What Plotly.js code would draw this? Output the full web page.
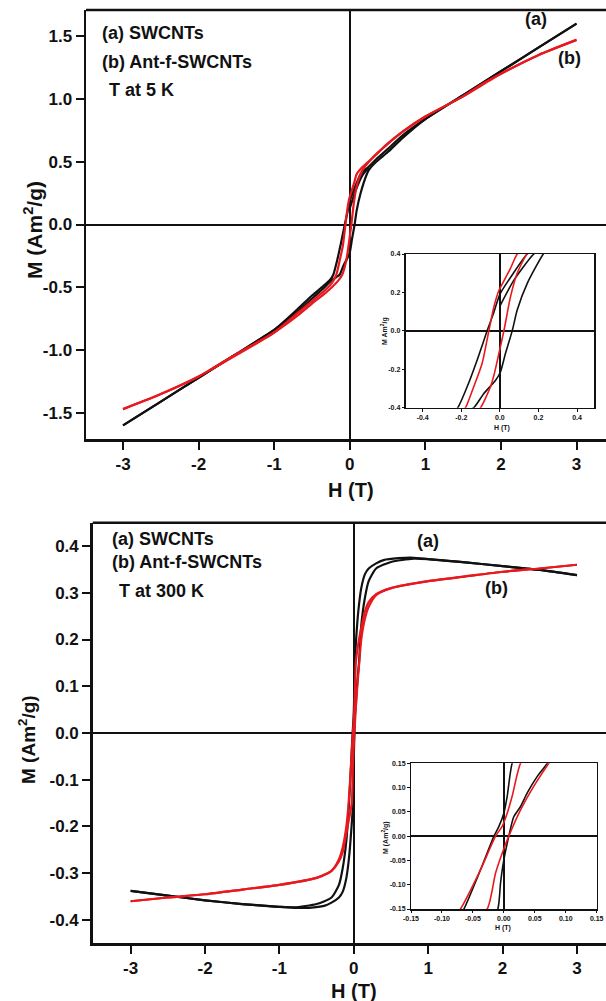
<!DOCTYPE html>
<html><head><meta charset="utf-8">
<script src="https://cdn.plot.ly/plotly-3.0.1.min.js"></script>
<style>html,body{margin:0;padding:0;background:#fff;overflow:hidden}#plot{width:606px;height:1001px}</style>
</head><body><div id="plot"></div>
<script>
// ---------- 5 K data ----------
const H5_blackDown = [3,2.5,2,1.5,1,0.7,0.5,0.35,0.25,0.19,0.142,0.07,0,-0.03,-0.066,-0.117,-0.169,-0.218,-0.26,-0.35,-0.5,-0.7,-1,-1.5,-2,-2.5,-3];
const M5_blackDown = [1.6,1.41,1.22,1.03,0.84,0.71,0.60,0.52,0.46,0.43,0.40,0.30,0.19,0.10,0,-0.15,-0.29,-0.40,-0.44,-0.49,-0.565,-0.68,-0.84,-1.03,-1.22,-1.41,-1.6];
const H5_blackUp = [-3,-2.5,-2,-1.5,-1,-0.7,-0.5,-0.35,-0.25,-0.18,-0.135,-0.083,-0.022,0.003,0.029,0.064,0.09,0.142,0.225,0.26,0.35,0.5,0.7,1,1.5,2,2.5,3];
const M5_blackUp = [-1.6,-1.41,-1.22,-1.03,-0.84,-0.70,-0.59,-0.51,-0.45,-0.42,-0.40,-0.326,-0.257,-0.214,-0.118,0,0.108,0.247,0.40,0.44,0.50,0.575,0.69,0.84,1.03,1.22,1.41,1.6];
const H5_blackExtra = [0.003,0.073,0.176,0.25];
const M5_blackExtra = [0.134,0.264,0.40,0.45];
const H5_redDown = [3,2.5,2,1.7,1.5,1,0.7,0.5,0.3,0.2,0.14,0.09,0.055,0.021,-0.005,-0.031,-0.057,-0.092,-0.135,-0.178,-0.23,-0.32,-0.5,-0.7,-1,-1.5,-2,-2.5,-3];
const M5_redDown = [1.47,1.35,1.20,1.10,1.02,0.86,0.74,0.645,0.53,0.475,0.44,0.40,0.325,0.26,0.21,0.125,0,-0.17,-0.29,-0.40,-0.46,-0.52,-0.61,-0.71,-0.86,-1.04,-1.21,-1.35,-1.47];
const H5_redUp = [-3,-2.5,-2,-1.5,-1,-0.7,-0.5,-0.32,-0.22,-0.15,-0.1,-0.048,-0.028,-0.005,0.021,0.038,0.055,0.09,0.14,0.2,0.3,0.5,0.7,1,1.5,2,2.5,3];
const M5_redUp = [-1.47,-1.35,-1.21,-1.03,-0.86,-0.73,-0.63,-0.545,-0.49,-0.445,-0.40,-0.29,-0.22,-0.118,0,0.09,0.177,0.30,0.40,0.46,0.53,0.64,0.74,0.86,1.02,1.20,1.35,1.47];

// ---------- 300 K data ----------
const H300_blackDown = [3,2.5,2,1.5,1,0.8,0.6,0.4,0.3,0.2,0.15,0.1,0.06,0.035,0.0134,0.0054,0,-0.008,-0.016,-0.0376,-0.0645,-0.1,-0.15,-0.2,-0.3,-0.5,-0.8,-1,-1.5,-2,-2.5,-3];
const M300_blackDown = [0.338,0.349,0.357,0.365,0.372,0.375,0.374,0.37,0.363,0.352,0.34,0.31,0.26,0.21,0.15,0.082,0.047,0.02,0,-0.069,-0.15,-0.23,-0.29,-0.325,-0.352,-0.366,-0.373,-0.372,-0.366,-0.358,-0.348,-0.338];
const H300_blackUp = [-3,-2.5,-2,-1.5,-1,-0.8,-0.6,-0.4,-0.3,-0.2,-0.15,-0.1,-0.06,-0.035,-0.0097,-0.0054,-0.001,0.008,0.016,0.027,0.0376,0.054,0.07,0.1,0.15,0.2,0.3,0.5,0.8,1,1.5,2,2.5,3];
const M300_blackUp = [-0.338,-0.348,-0.358,-0.366,-0.372,-0.374,-0.374,-0.37,-0.363,-0.352,-0.34,-0.31,-0.26,-0.21,-0.15,-0.097,-0.056,0,0.04,0.061,0.0885,0.123,0.15,0.23,0.29,0.325,0.352,0.366,0.373,0.372,0.365,0.357,0.349,0.338];
const H300_redDown = [3,2.5,2,1.5,1,0.5,0.3,0.2,0.15,0.1,0.07,0.045,0.027,0.0134,0.0054,-0.0027,-0.0134,-0.0376,-0.07,-0.1,-0.15,-0.2,-0.3,-0.5,-1,-1.5,-2,-2.5,-3];
const M300_redDown = [0.36,0.352,0.345,0.335,0.325,0.31,0.297,0.28,0.26,0.225,0.2,0.175,0.15,0.082,0.047,0.02,0,-0.069,-0.15,-0.2,-0.245,-0.27,-0.295,-0.31,-0.325,-0.335,-0.345,-0.352,-0.36];
const H300_redUp = [-3,-2.5,-2,-1.5,-1,-0.5,-0.3,-0.2,-0.15,-0.1,-0.06,-0.027,-0.0134,-0.0027,0.008,0.027,0.048,0.0726,0.1,0.15,0.2,0.3,0.5,1,1.5,2,2.5,3];
const M300_redUp = [-0.36,-0.352,-0.345,-0.335,-0.325,-0.31,-0.295,-0.275,-0.255,-0.215,-0.18,-0.15,-0.076,-0.035,0,0.054,0.102,0.15,0.2,0.245,0.27,0.295,0.31,0.325,0.335,0.345,0.352,0.36];

// ---------- tick labels ----------
const mainXTicks = [-3,-2,-1,0,1,2,3];
const mainXLabels = ["-3","-2","-1","0","1","2","3"];
const top5YTicks = [1.5,1.0,0.5,0,-0.5,-1.0,-1.5];
const top5YLabels = ["1.5","1.0","0.5","0.0","-0.5","-1.0","-1.5"];
const bot300YTicks = [0.4,0.3,0.2,0.1,0,-0.1,-0.2,-0.3,-0.4];
const bot300YLabels = ["0.4","0.3","0.2","0.1","0.0","-0.1","-0.2","-0.3","-0.4"];
const inset5Ticks = [-0.4,-0.2,0,0.2,0.4];
const inset5Labels = ["-0.4","-0.2","0.0","0.2","0.4"];
const inset300Ticks = [-0.15,-0.10,-0.05,0,0.05,0.10,0.15];
const inset300Labels = ["-0.15","-0.10","-0.05","0.00","0.05","0.10","0.15"];

const BLACK = '#111111', RED = '#e8191e';
const FONT = '"Liberation Sans", Arial, Helvetica, sans-serif';
const W = 606, Hh = 1001;
const px = x => x / W, py = y => 1 - y / Hh;

function tr(x, y, color, xa, ya, w) {
  return {x, y, type:'scatter', mode:'lines', xaxis:xa, yaxis:ya,
    line:{color, width:w, shape:'spline', smoothing:0.6}, hoverinfo:'skip', showlegend:false};
}
const data = [];
for (const [xa, ya, w] of [['x','y',2.2],['x3','y3',1.6]]) {
  data.push(tr(H5_blackDown, M5_blackDown, BLACK, xa, ya, w));
  data.push(tr(H5_blackUp, M5_blackUp, BLACK, xa, ya, w));
  data.push(tr(H5_blackExtra, M5_blackExtra, BLACK, xa, ya, w));
  data.push(tr(H5_redDown, M5_redDown, RED, xa, ya, w));
  data.push(tr(H5_redUp, M5_redUp, RED, xa, ya, w));
}
for (const [xa, ya, w] of [['x2','y2',2.2],['x4','y4',1.6]]) {
  data.push(tr(H300_blackDown, M300_blackDown, BLACK, xa, ya, w));
  data.push(tr(H300_blackUp, M300_blackUp, BLACK, xa, ya, w));
  data.push(tr(H300_redDown, M300_redDown, RED, xa, ya, w));
  data.push(tr(H300_redUp, M300_redUp, RED, xa, ya, w));
}

function mainAxis(domain, range, tv, tt, anchor) {
  return {domain, range, anchor, tickmode:'array', tickvals:tv, ticktext:tt,
    showline:true, linecolor:BLACK, linewidth:2.5, ticks:'outside', ticklen:8, tickwidth:2, tickcolor:BLACK,
    showgrid:false, zeroline:true, zerolinecolor:BLACK, zerolinewidth:2,
    tickfont:{family:FONT, size:17, color:BLACK, weight:'bold'}, fixedrange:true};
}
function insetAxis(domain, range, tv, tt, anchor) {
  return {domain, range, anchor, tickmode:'array', tickvals:tv, ticktext:tt,
    showline:true, mirror:true, linecolor:BLACK, linewidth:1.5, ticks:'outside', ticklen:2.5, tickwidth:1, tickcolor:BLACK,
    showgrid:false, zeroline:true, zerolinecolor:BLACK, zerolinewidth:1.5,
    tickfont:{family:FONT, size:7, color:BLACK, weight:'bold'}, fixedrange:true};
}

const layout = {
  width:W, height:Hh, margin:{l:0,r:0,t:0,b:0},
  paper_bgcolor:'#fff', plot_bgcolor:'rgba(0,0,0,0)', showlegend:false,
  xaxis: mainAxis([px(86),1], [-3.49,3.39], mainXTicks, mainXLabels, 'y'),
  yaxis: mainAxis([py(439),py(10)], [-1.708,1.708], top5YTicks, top5YLabels, 'x'),
  xaxis2: mainAxis([px(92.7),1], [-3.51,3.39], mainXTicks, mainXLabels, 'y2'),
  yaxis2: mainAxis([py(943.3),py(522.7)], [-0.45,0.45], bot300YTicks, bot300YLabels, 'x2'),
  xaxis3: insetAxis([px(405.7),px(594)], [-0.488,0.488], inset5Ticks, inset5Labels, 'y3'),
  yaxis3: insetAxis([py(407.7),py(254)], [-0.4,0.4], inset5Ticks, inset5Labels, 'x3'),
  xaxis4: insetAxis([px(411),px(596.7)], [-0.15,0.15], inset300Ticks, inset300Labels, 'y4'),
  yaxis4: insetAxis([py(909),py(763.3)], [-0.15,0.15], inset300Ticks, inset300Labels, 'x4'),
  shapes: [
    {type:'rect', xref:'paper', yref:'paper', x0:px(405.7), x1:px(594), y0:py(407.7), y1:py(254), fillcolor:'#fff', line:{width:0}, layer:'below'},
    {type:'rect', xref:'paper', yref:'paper', x0:px(411), x1:px(596.7), y0:py(909), y1:py(763.3), fillcolor:'#fff', line:{width:0}, layer:'below'},
    {type:'line', xref:'x domain', yref:'y domain', x0:0, x1:1, y0:1, y1:1, line:{color:BLACK, width:2.5}},
    {type:'line', xref:'x2 domain', yref:'y2 domain', x0:0, x1:1, y0:1, y1:1, line:{color:BLACK, width:2.5}}
  ],
  annotations: []
};

function ann(text, x, y, size, opts) {
  return Object.assign({text, xref:'paper', yref:'paper', x:px(x), y:py(y), showarrow:false,
    font:{family:FONT, size, color:BLACK, weight:'bold'}, xanchor:'center', yanchor:'middle'}, opts||{});
}
layout.annotations.push(
  ann('M (Am<sup>2</sup>/g)', 33, 230, 21, {textangle:-90}),
  ann('H (T)', 351, 490, 20),
  ann('(a) SWCNTs', 100, 33, 18, {xanchor:'left'}),
  ann('(b) Ant-f-SWCNTs', 100, 62, 18, {xanchor:'left'}),
  ann('T at 5 K', 107, 90, 18, {xanchor:'left'}),
  ann('(a)', 536, 19, 18),
  ann('(b)', 569, 58, 18),
  ann('M Am<sup>2</sup>/g', 384, 331, 7, {textangle:-90}),
  ann('H (T)', 502, 428, 7),
  ann('M (Am<sup>2</sup>/g)', 27, 740, 19, {textangle:-90}),
  ann('H (T)', 354, 991, 20),
  ann('(a) SWCNTs', 110, 539, 18, {xanchor:'left'}),
  ann('(b) Ant-f-SWCNTs', 110, 562, 18, {xanchor:'left'}),
  ann('T at 300 K', 117, 591, 18, {xanchor:'left'}),
  ann('(a)', 428, 541, 18),
  ann('(b)', 496, 588, 18),
  ann('M (Am<sup>2</sup>/g)', 385, 838, 7, {textangle:-90}),
  ann('H (T)', 503, 928, 7)
);

Plotly.newPlot('plot', data, layout, {staticPlot:true, displayModeBar:false});
</script></body></html>
